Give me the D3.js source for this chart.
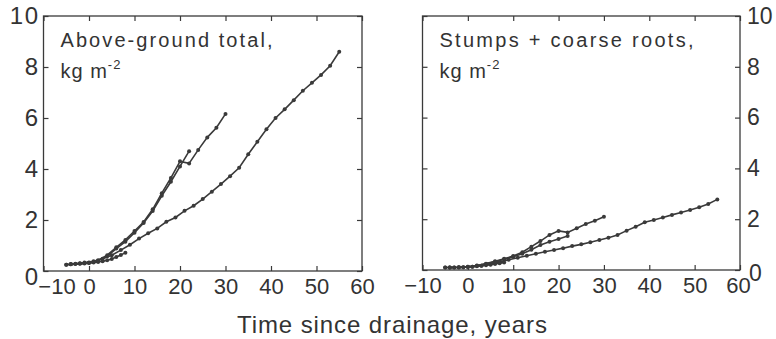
<!DOCTYPE html>
<html>
<head>
<meta charset="utf-8">
<script src="https://cdn.jsdelivr.net/npm/d3@7"></script>
<style>
  body { margin: 0; background: #fff; }
  svg { display: block; font-family: "Liberation Sans", Arial, sans-serif; }
</style>
</head>
<body>
<svg width="776" height="339"></svg>
<script>
// years for each run
const yearsShort = [-5, -4, -3, -2, -1, 0, 1, 2, 3, 4, 5, 6, 7, 8]
const yearsLong = [-5, -3, -1, 1, 3, 5, 7, 9, 11, 13, 15, 17, 19, 21, 23, 25, 27, 29, 31, 33, 35, 37, 39, 41, 43, 45, 47, 49, 51, 53, 55]
const yearsTo30 = [-4, -2, 0, 2, 4, 6, 8, 10, 12, 14, 16, 18, 20, 22, 24, 26, 28, 30]
const yearsTo22 = [-4, -2, 0, 2, 4, 6, 8, 10, 12, 14, 16, 18, 20, 22]

// above-ground total, kg m-2
const agShort = [0.25, 0.26, 0.27, 0.28, 0.29, 0.31, 0.33, 0.35, 0.38, 0.42, 0.47, 0.55, 0.63, 0.72]
const agLong = [0.25, 0.28, 0.33, 0.38, 0.48, 0.62, 0.82, 1.03, 1.27, 1.48, 1.67, 1.93, 2.1, 2.36, 2.56, 2.82, 3.11, 3.41, 3.72, 4.05, 4.58, 5.07, 5.56, 6.0, 6.34, 6.7, 7.07, 7.38, 7.69, 8.05, 8.6]
const agTo30 = [0.27, 0.3, 0.33, 0.42, 0.62, 0.93, 1.22, 1.57, 1.92, 2.42, 3.05, 3.65, 4.3, 4.22, 4.75, 5.24, 5.62, 6.16]
const agTo22 = [0.26, 0.29, 0.32, 0.4, 0.58, 0.88, 1.15, 1.5, 1.88, 2.35, 2.95, 3.5, 4.1, 4.7]

// stumps + coarse roots, kg m-2
const srShort = [0.1, 0.1, 0.1, 0.1, 0.11, 0.12, 0.13, 0.15, 0.17, 0.19, 0.21, 0.24, 0.27, 0.3]
const srLong = [0.1, 0.1, 0.11, 0.13, 0.17, 0.23, 0.31, 0.4, 0.48, 0.56, 0.64, 0.72, 0.79, 0.86, 0.94, 1.01, 1.09, 1.18, 1.27, 1.38, 1.55, 1.7, 1.88, 1.97, 2.07, 2.17, 2.26, 2.36, 2.47, 2.6, 2.78]
const srTo30 = [0.1, 0.11, 0.13, 0.18, 0.25, 0.34, 0.44, 0.55, 0.7, 0.92, 1.14, 1.38, 1.54, 1.48, 1.64, 1.81, 1.94, 2.1]
const srTo22 = [0.1, 0.11, 0.13, 0.17, 0.24, 0.32, 0.42, 0.52, 0.64, 0.8, 0.98, 1.11, 1.22, 1.34]

const xTicks = [-10, 0, 10, 20, 30, 40, 50, 60]
const yTicks = [0, 2, 4, 6, 8, 10]

const ink = "#3a3a3a"
const svg = d3.select("svg")

function zip(xs, ys) { return xs.map((x, i) => ({x: x, y: ys[i]})) }

function panel(opts) {
  const x = d3.scaleLinear().domain([-10, 60]).range([opts.x0, opts.x1])
  const y = d3.scaleLinear().domain([0, 10]).range([opts.y0, opts.y1])
  const g = svg.append("g")

  // bottom axis with inward ticks
  const bx = g.append("g")
    .attr("transform", "translate(0," + opts.y0 + ")")
    .call(d3.axisBottom(x).tickValues(xTicks).tickSize(-5).tickPadding(7))
  // top ticks
  g.append("g")
    .attr("transform", "translate(0," + opts.y1 + ")")
    .call(d3.axisTop(x).tickValues(xTicks).tickSize(-5).tickFormat(""))
  // left and right ticks
  const ly = g.append("g")
    .attr("transform", "translate(" + opts.x0 + ",0)")
    .call(d3.axisLeft(y).tickValues(yTicks).tickSize(-5).tickPadding(4)
      .tickFormat(opts.labelsLeft ? d3.format("d") : ""))
  const ry = g.append("g")
    .attr("transform", "translate(" + opts.x1 + ",0)")
    .call(d3.axisRight(y).tickValues(yTicks).tickSize(-5).tickPadding(7)
      .tickFormat(opts.labelsLeft ? "" : d3.format("d")))

  g.selectAll(".domain").remove()
  g.selectAll(".tick line").attr("stroke", ink).attr("stroke-width", 1.2)
  g.selectAll(".tick text").attr("fill", "#333")
    .attr("font-family", "'Liberation Sans', Arial, sans-serif")
  bx.selectAll(".tick text").attr("font-size", 22)
  ly.selectAll(".tick text").attr("font-size", 24).attr("letter-spacing", 1.5)
  ry.selectAll(".tick text").attr("font-size", 23)

  // the 0 label sits a bit lower, clear of the x labels
  ly.selectAll(".tick text").filter(d => d === 0).attr("dy", "0.55em")
  ry.selectAll(".tick text").filter(d => d === 0).attr("dy", "0.45em").attr("dx", 2)
  if (opts.labelsLeft) {
    bx.selectAll(".tick text").filter(d => d === -10).attr("dx", 13)
  } else {
    bx.selectAll(".tick text").filter(d => d === 60).attr("dx", -2)
  }

  // frame
  g.append("rect")
    .attr("x", opts.x0).attr("y", opts.y1)
    .attr("width", opts.x1 - opts.x0).attr("height", opts.y0 - opts.y1)
    .attr("fill", "none").attr("stroke", ink).attr("stroke-width", 1.3)

  const line = d3.line().x(d => x(d.x)).y(d => y(d.y))
  for (const s of opts.series) {
    const pts = zip(s[0], s[1])
    g.append("path").datum(pts)
      .attr("d", line).attr("fill", "none")
      .attr("stroke", ink).attr("stroke-width", 1.6)
    g.append("g").selectAll("circle").data(pts).enter().append("circle")
      .attr("cx", d => x(d.x)).attr("cy", d => y(d.y))
      .attr("r", 2).attr("fill", ink)
  }

  // panel label
  g.append("text").attr("fill", "#333").attr("font-size", 20)
    .attr("x", opts.x0 + 17).attr("y", 47)
    .attr("textLength", opts.titleLen).attr("lengthAdjust", "spacing")
    .text(opts.title)
  const u = g.append("text").attr("fill", "#333").attr("font-size", 20)
    .attr("x", opts.x0 + 17).attr("y", 78).attr("letter-spacing", 1)
  u.append("tspan").text("kg m")
  u.append("tspan").attr("font-size", 13).attr("dy", -9).attr("dx", 0).text("-2")
}

panel({
  x0: 43.5, x1: 362, y0: 271, y1: 16, labelsLeft: true,
  title: "Above-ground total,", titleLen: 212,
  series: [[yearsShort, agShort], [yearsLong, agLong], [yearsTo30, agTo30], [yearsTo22, agTo22]]
})

panel({
  x0: 422.5, x1: 740, y0: 270, y1: 16, labelsLeft: false,
  title: "Stumps + coarse roots,", titleLen: 254,
  series: [[yearsShort, srShort], [yearsLong, srLong], [yearsTo30, srTo30], [yearsTo22, srTo22]]
})

svg.append("text")
  .attr("x", 237).attr("y", 333)
  .attr("textLength", 310).attr("lengthAdjust", "spacing")
  .attr("font-size", 24).attr("fill", "#333")
  .text("Time since drainage, years")
</script>
</body>
</html>
